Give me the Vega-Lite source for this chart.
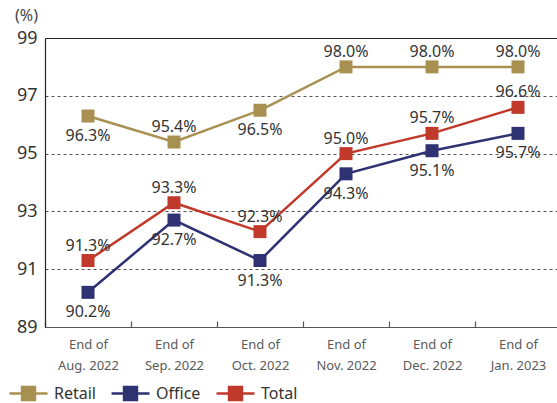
{
  "$schema": "https://vega.github.io/schema/vega-lite/v6.json",
  "width": 516,
  "height": 289,
  "autosize": "none",
  "padding": {"left": 45, "top": 38, "right": 0, "bottom": 76},
  "background": "white",
  "config": {
    "font": "Noto Sans",
    "view": {"stroke": null}
  },
  "data": {
    "values": [
      {"month": "End of|Aug. 2022", "series": "Retail", "value": 96.3},
      {"month": "End of|Sep. 2022", "series": "Retail", "value": 95.4},
      {"month": "End of|Oct. 2022", "series": "Retail", "value": 96.5},
      {"month": "End of|Nov. 2022", "series": "Retail", "value": 98.0},
      {"month": "End of|Dec. 2022", "series": "Retail", "value": 98.0},
      {"month": "End of|Jan. 2023", "series": "Retail", "value": 98.0},
      {"month": "End of|Aug. 2022", "series": "Office", "value": 90.2},
      {"month": "End of|Sep. 2022", "series": "Office", "value": 92.7},
      {"month": "End of|Oct. 2022", "series": "Office", "value": 91.3},
      {"month": "End of|Nov. 2022", "series": "Office", "value": 94.3},
      {"month": "End of|Dec. 2022", "series": "Office", "value": 95.1},
      {"month": "End of|Jan. 2023", "series": "Office", "value": 95.7},
      {"month": "End of|Aug. 2022", "series": "Total", "value": 91.3},
      {"month": "End of|Sep. 2022", "series": "Total", "value": 93.3},
      {"month": "End of|Oct. 2022", "series": "Total", "value": 92.3},
      {"month": "End of|Nov. 2022", "series": "Total", "value": 95.0},
      {"month": "End of|Dec. 2022", "series": "Total", "value": 95.7},
      {"month": "End of|Jan. 2023", "series": "Total", "value": 96.6}
    ]
  },
  "encoding": {
    "x": {
      "field": "month",
      "type": "nominal",
      "sort": null,
      "scale": {"type": "band", "paddingInner": 0, "paddingOuter": 0},
      "axis": {
        "title": null,
        "labelAngle": 0,
        "labelExpr": "split(datum.label, '|')",
        "labelFontSize": 13,
        "labelColor": "#5a5a5a",
        "labelLineHeight": 21,
        "labelPadding": 17,
        "labelBaseline": "top",
        "tickBand": "extent",
        "tickSize": -6,
        "tickColor": "#555555",
        "tickWidth": 1.2,
        "domainColor": "#555555",
        "domainWidth": 1.2,
        "grid": false
      }
    },
    "y": {
      "field": "value",
      "type": "quantitative",
      "scale": {"domain": [89, 99], "nice": false, "zero": false},
      "axis": {
        "title": "(%)",
        "titleAngle": 0,
        "titleAlign": "center",
        "titleBaseline": "middle",
        "titleX": -19,
        "titleY": -23,
        "titleFontSize": 16,
        "titleFontWeight": "normal",
        "titleColor": "#444444",
        "values": [89, 91, 93, 95, 97, 99],
        "labelFontSize": 18,
        "labelColor": "#333333",
        "labelPadding": 8,
        "ticks": false,
        "domainColor": "#222222",
        "domainWidth": 1.2,
        "grid": true,
        "gridColor": {"condition": {"test": "datum.value == 99", "value": "#222222"}, "value": "#555555"},
        "gridWidth": {"condition": {"test": "datum.value == 99", "value": 1.2}, "value": 1},
        "gridDash": {"condition": {"test": "datum.value == 99", "value": []}, "value": [3, 3]}
      }
    },
    "color": {
      "field": "series",
      "type": "nominal",
      "scale": {"domain": ["Retail", "Office", "Total"], "range": ["#A89150", "#2E3172", "#C0392B"]},
      "legend": {
        "title": null,
        "orient": "none",
        "direction": "horizontal",
        "legendX": -37,
        "legendY": 335,
        "symbolType": "M-1,0H-0.34M0.34,0H1M-0.34,-0.34H0.34V0.34H-0.34Z",
        "symbolSize": 1444,
        "symbolStrokeWidth": 2.5,
        "labelFontSize": 16,
        "labelColor": "#333333",
        "labelOffset": 5,
        "columnPadding": 10,
        "encode": {
          "symbols": {"update": {"fill": {"scale": "color", "field": "value"}, "stroke": {"scale": "color", "field": "value"}, "strokeWidth": {"value": 2.5}, "fillOpacity": {"value": 1}, "strokeOpacity": {"value": 1}, "opacity": {"value": 1}}}
        }
      }
    }
  },
  "layer": [
    {
      "mark": {"type": "line", "strokeWidth": 2.5}
    },
    {
      "mark": {"type": "point", "shape": "square", "size": 169, "filled": true, "opacity": 1}
    },
    {
      "transform": [
        {"filter": "datum.series == 'Total' || (datum.series == 'Retail' && datum.month != 'End of|Aug. 2022' && datum.month != 'End of|Oct. 2022')"},
        {"calculate": "format(datum.value, '.1f') + '%'", "as": "label"}
      ],
      "mark": {"type": "text", "dy": -15, "fontSize": 16, "baseline": "middle", "color": "#333333"},
      "encoding": {"text": {"field": "label"}, "color": {"value": "#333333"}}
    },
    {
      "transform": [
        {"filter": "datum.series == 'Office' || (datum.series == 'Retail' && (datum.month == 'End of|Aug. 2022' || datum.month == 'End of|Oct. 2022'))"},
        {"calculate": "format(datum.value, '.1f') + '%'", "as": "label"}
      ],
      "mark": {"type": "text", "dy": 20, "fontSize": 16, "baseline": "middle", "color": "#333333"},
      "encoding": {"text": {"field": "label"}, "color": {"value": "#333333"}}
    }
  ]
}
